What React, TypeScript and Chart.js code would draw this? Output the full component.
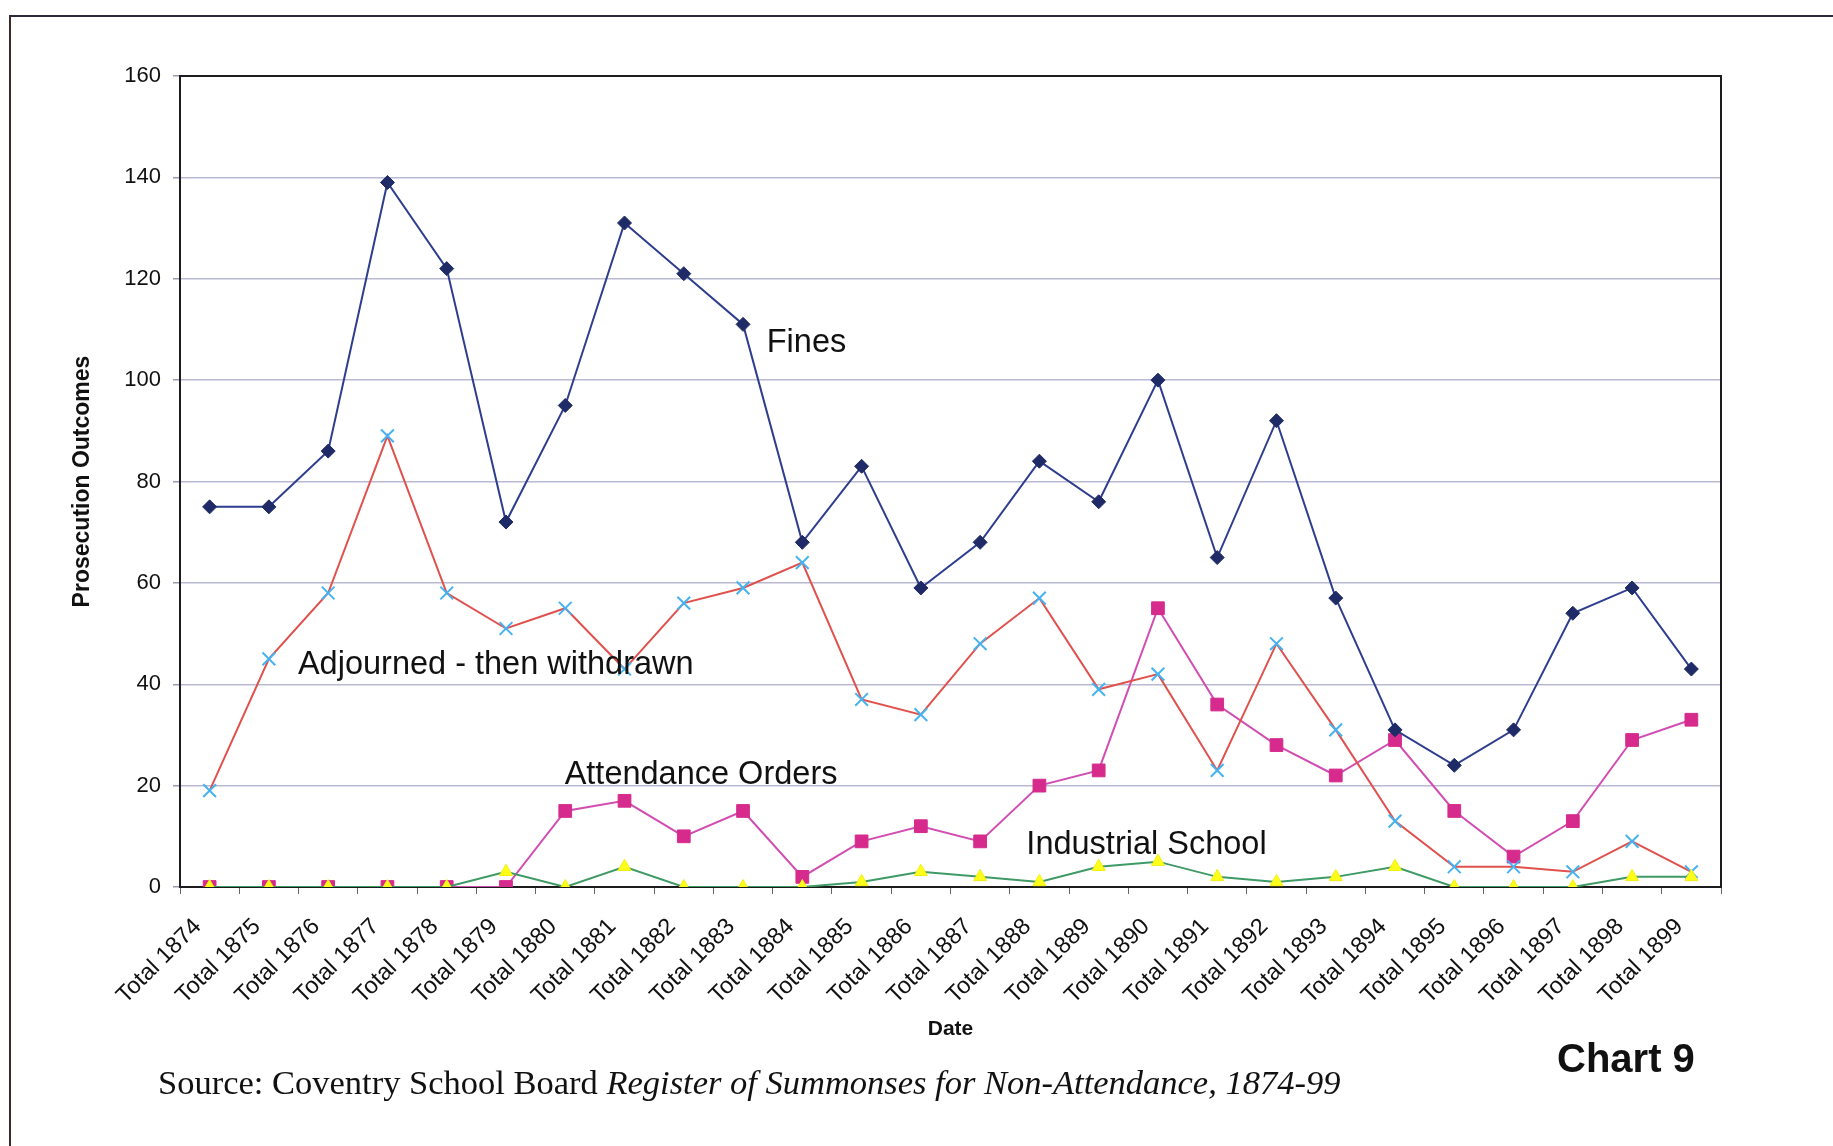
import React, { useEffect, useRef } from "react";
import { Chart, registerables } from "chart.js";

Chart.register(...registerables);

// ---------- data ----------
const categories = [
  "Total 1874", "Total 1875", "Total 1876", "Total 1877", "Total 1878", "Total 1879",
  "Total 1880", "Total 1881", "Total 1882", "Total 1883", "Total 1884", "Total 1885",
  "Total 1886", "Total 1887", "Total 1888", "Total 1889", "Total 1890", "Total 1891",
  "Total 1892", "Total 1893", "Total 1894", "Total 1895", "Total 1896", "Total 1897",
  "Total 1898", "Total 1899",
];

const fines = [75, 75, 86, 139, 122, 72, 95, 131, 121, 111, 68, 83, 59, 68, 84, 76, 100, 65, 92, 57, 31, 24, 31, 54, 59, 43];
const adjourned = [19, 45, 58, 89, 58, 51, 55, 43, 56, 59, 64, 37, 34, 48, 57, 39, 42, 23, 48, 31, 13, 4, 4, 3, 9, 3];
const attendanceOrders = [0, 0, 0, 0, 0, 0, 15, 17, 10, 15, 2, 9, 12, 9, 20, 23, 55, 36, 28, 22, 29, 15, 6, 13, 29, 33];
const industrialSchool = [0, 0, 0, 0, 0, 3, 0, 4, 0, 0, 0, 1, 3, 2, 1, 4, 5, 2, 1, 2, 4, 0, 0, 0, 2, 2];

const seriesNames = ["Fines", "Adjourned - then withdrawn", "Attendance Orders", "Industrial School"];

const yMin = 0;
const yMax = 160;
const yStep = 20;

// in-chart labels: text, category position, value
const labelTexts = ["Fines", "Adjourned - then withdrawn", "Attendance Orders", "Industrial School"];
const labelCategoryPos = [9.4, 1.49, 5.99, 13.78];
const labelValues = [107.4, 43.7, 22.0, 8.2];

const yAxisTitle = "Prosecution Outcomes";
const xAxisTitle = "Date";
const chartNumber = "Chart 9";
const sourcePlain = "Source: Coventry School Board ";
const sourceItalic = "Register of Summonses for Non-Attendance, 1874-99";

const SANS = "'Liberation Sans', Arial, sans-serif";
const SERIF = "'Liberation Serif', 'Times New Roman', serif";

const plotPlugin = {
  id: "plotFrameAndLabels",
  beforeDatasetsDraw(chart: any) {
    const { ctx, chartArea: a } = chart;
    ctx.save();
    ctx.strokeStyle = "#1c1c1c";
    ctx.lineWidth = 2;
    ctx.strokeRect(a.left, a.top, a.right - a.left, a.bottom - a.top);
    ctx.restore();
  },
  afterDatasetsDraw(chart: any) {
    const { ctx } = chart;
    const xs = chart.scales.x;
    const ys = chart.scales.y;
    ctx.save();
    ctx.font = `32.5px ${SANS}`;
    ctx.fillStyle = "#111111";
    ctx.textAlign = "left";
    ctx.textBaseline = "middle";
    labelTexts.forEach((t, i) => {
      const px = xs.getPixelForValue(labelCategoryPos[i]);
      const py = ys.getPixelForValue(labelValues[i]);
      ctx.fillText(t, px, py);
    });
    ctx.restore();
  },
};

export default function App() {
  const canvasRef = useRef<HTMLCanvasElement | null>(null);

  useEffect(() => {
    if (!canvasRef.current) return;
    const chart = new Chart(canvasRef.current, {
      type: "line",
      data: {
        labels: categories,
        datasets: [
          {
            label: seriesNames[0],
            data: fines,
            borderColor: "#2E3D8E",
            borderWidth: 2,
            pointStyle: "rectRot",
            pointRadius: 7,
            pointBackgroundColor: "#1F2B66",
            pointBorderColor: "#1F2B66",
            pointBorderWidth: 1,
            tension: 0,
            order: 2,
          },
          {
            label: seriesNames[1],
            data: adjourned,
            borderColor: "#E0514D",
            borderWidth: 2,
            pointStyle: "crossRot",
            pointRadius: 9,
            pointBorderColor: "#45B3F2",
            pointBackgroundColor: "#45B3F2",
            pointBorderWidth: 2,
            tension: 0,
            order: 1,
          },
          {
            label: seriesNames[2],
            data: attendanceOrders,
            borderColor: "#D24DB2",
            borderWidth: 2,
            pointStyle: "rect",
            pointRadius: 9,
            pointBackgroundColor: "#D62B8D",
            pointBorderColor: "#D62B8D",
            pointBorderWidth: 1,
            tension: 0,
            order: 3,
          },
          {
            label: seriesNames[3],
            data: industrialSchool,
            borderColor: "#3F9A66",
            borderWidth: 2,
            pointStyle: "triangle",
            pointRadius: 7.5,
            pointBackgroundColor: "#FFFF1A",
            pointBorderColor: "#F2EE10",
            pointBorderWidth: 1,
            tension: 0,
            order: 0,
          },
        ],
      },
      options: {
        responsive: false,
        animation: false,
        devicePixelRatio: 1,
        layout: { padding: { left: 60, right: 112, top: 76, bottom: 99 } },
        plugins: {
          legend: { display: false },
          tooltip: { enabled: false },
        },
        scales: {
          x: {
            type: "category",
            offset: true,
            grid: {
              offset: true,
              drawOnChartArea: false,
              drawTicks: true,
              tickLength: 7,
              tickColor: "#666666",
              color: "#666666",
            },
            border: { display: true, color: "#1c1c1c", width: 2 },
            ticks: {
              autoSkip: false,
              minRotation: 45,
              maxRotation: 45,
              padding: 19,
              labelOffset: -12,
              color: "#111111",
              font: { family: SANS, size: 23.5 },
            },
            title: {
              display: true,
              text: xAxisTitle,
              color: "#111111",
              font: { family: SANS, size: 21, weight: "bold" },
              padding: { top: 0, bottom: 5 },
            },
            afterFit: (s: any) => {
              s.height = 160;
            },
          },
          y: {
            min: yMin,
            max: yMax,
            ticks: {
              stepSize: yStep,
              padding: 12,
              color: "#111111",
              font: { family: SANS, size: 22 },
            },
            grid: {
              color: "#B9B9D3",
              lineWidth: 1.5,
              tickLength: 7,
              tickColor: "#9a9ab0",
            },
            border: { display: true, color: "#1c1c1c", width: 2 },
            title: {
              display: true,
              text: yAxisTitle,
              color: "#111111",
              font: { family: SANS, size: 23, weight: "bold" },
              padding: { top: 9, bottom: 0 },
            },
            afterFit: (s: any) => {
              s.width = 120;
            },
          },
        },
      },
      plugins: [plotPlugin],
    });
    return () => chart.destroy();
  }, []);

  return (
    <div
      style={{
        position: "fixed",
        left: 0,
        top: 0,
        width: 1833,
        height: 1146,
        background: "#ffffff",
        overflow: "hidden",
      }}
    >
      <div style={{ position: "absolute", left: 9, top: 15, width: 1824, height: 0, borderTop: "2px solid #2a2a3a" }} />
      <div style={{ position: "absolute", left: 9, top: 15, width: 0, height: 1131, borderLeft: "2px solid #3a2a2a" }} />
      <canvas
        ref={canvasRef}
        width={1833}
        height={1146}
        style={{ position: "absolute", left: 0, top: 0, width: 1833, height: 1146 }}
      />
      <div
        style={{
          position: "absolute",
          left: 1557,
          top: 1038,
          fontFamily: SANS,
          fontWeight: "bold",
          fontSize: 40,
          lineHeight: "40px",
          color: "#111",
          whiteSpace: "nowrap",
        }}
      >
        {chartNumber}
      </div>
      <div
        style={{
          position: "absolute",
          left: 158,
          top: 1065,
          fontFamily: SERIF,
          fontSize: 34.5,
          lineHeight: "35px",
          color: "#111",
          whiteSpace: "nowrap",
        }}
      >
        {sourcePlain}
        <i>{sourceItalic}</i>
      </div>
    </div>
  );
}
